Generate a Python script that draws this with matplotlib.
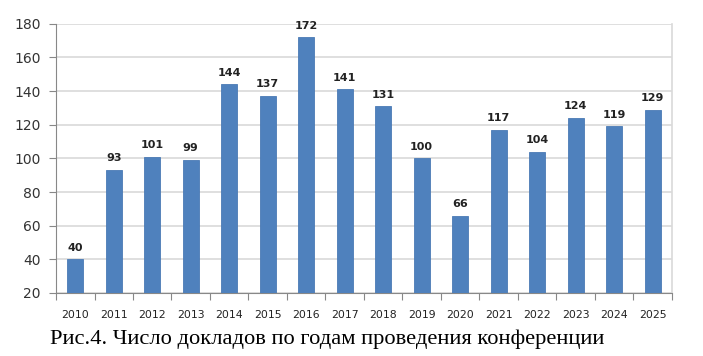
import matplotlib.pyplot as plt
import numpy as np

years = [str(y) for y in range(2010, 2026)]
reports = [40, 93, 101, 99, 144, 137, 172, 141, 131, 100, 66, 117, 104, 124, 119, 129]
yticks = [20, 40, 60, 80, 100, 120, 140, 160, 180]
caption = "Рис.4. Число докладов по годам проведения конференции"

fig = plt.figure(figsize=(7.03, 3.56), dpi=100)
ax = fig.add_axes([0.0797, 0.177, 0.876, 0.756])

x = np.arange(len(years))
ax.bar(x, reports, width=0.42, color="#4F81BD", edgecolor="#4A7AB5", lw=0.6, zorder=3)
for xi, v in zip(x, reports):
    ax.text(xi, v + 4, str(v), ha="center", va="bottom", fontsize=8,
            fontweight="bold", color="#222222", zorder=4)

ax.set_xlim(-0.5, len(years) - 0.5)
ax.set_ylim(20, 180)
ax.set_yticks(yticks)
ax.set_yticklabels([str(t) for t in yticks], fontsize=10, color="#333333")
ax.set_xticks(x)
ax.set_xticklabels(years, fontsize=7.8, color="#222222")
ax.set_xticks(np.arange(len(years) + 1) - 0.5, minor=True)
ax.tick_params(axis="x", which="major", length=0, pad=12)
ax.tick_params(axis="x", which="minor", length=5, color="#888888", width=0.8)
ax.tick_params(axis="y", length=5, color="#888888", width=0.8, pad=6)

ax.grid(axis="y", color="#D9D9D9", lw=1.2, zorder=0)
ax.spines["top"].set_visible(False)
ax.spines["right"].set_color("#D9D9D9")
ax.spines["right"].set_linewidth(1.2)
ax.spines["left"].set_color("#888888")
ax.spines["bottom"].set_color("#888888")

fig.text(0.071, 0.035, caption, fontsize=16.2, family="Liberation Serif", color="black")

fig.savefig("out.png", dpi=100)
